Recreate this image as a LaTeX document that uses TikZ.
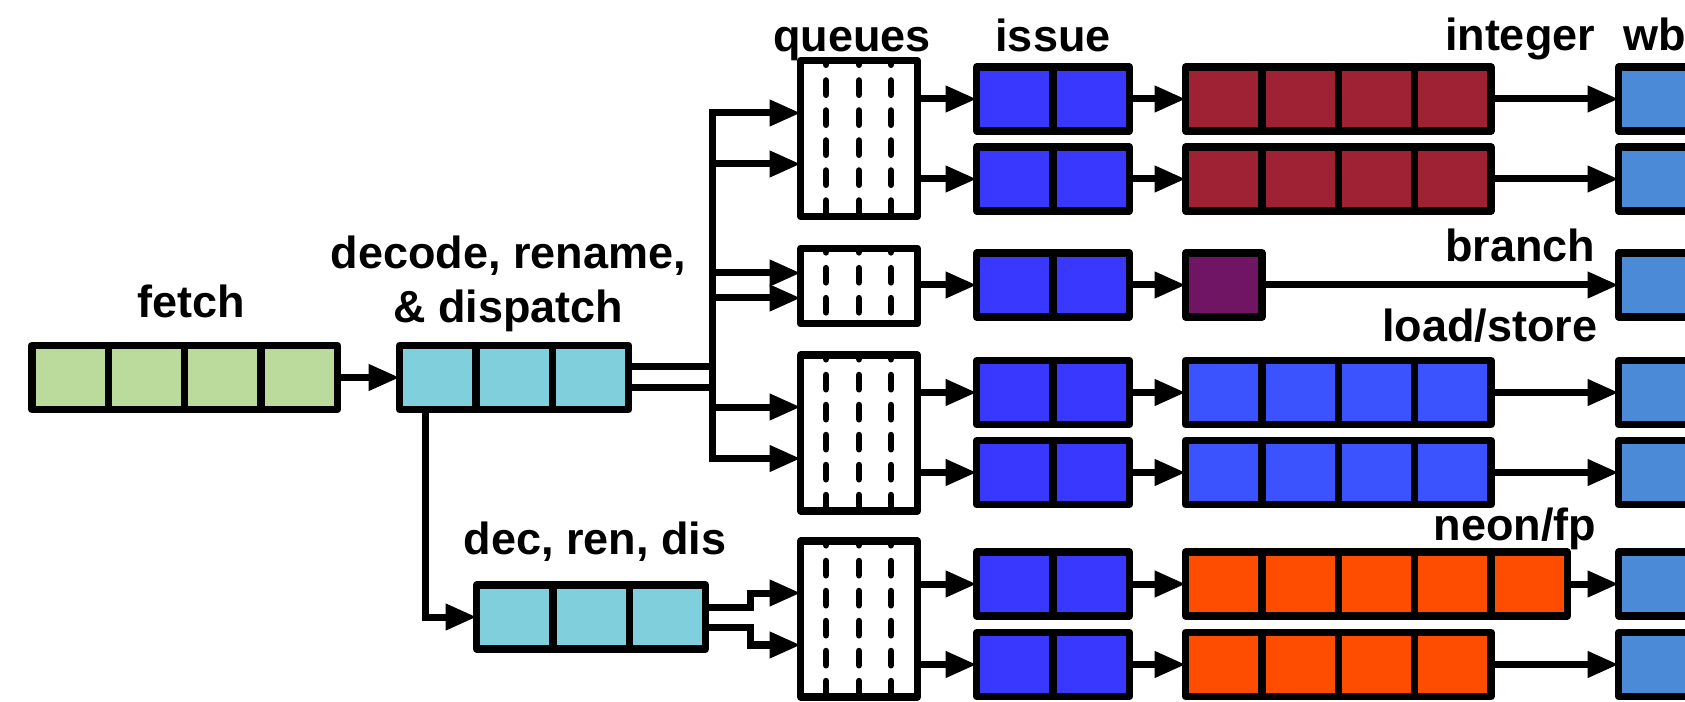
\documentclass[tikz,border=0pt]{standalone}
\usepackage{fontspec}
\setmainfont{Liberation Sans}
\usepackage{xcolor}
\usepackage{tikz}
\usetikzlibrary{positioning, arrows.meta, calc}

\definecolor{fetchgreen}{RGB}{187,219,156}
\definecolor{decodecyan}{RGB}{127,208,220}
\definecolor{issueblue}{RGB}{56,56,255}
\definecolor{intred}{RGB}{158,34,52}
\definecolor{branchpurple}{RGB}{112,20,100}
\definecolor{lsblue}{RGB}{58,82,255}
\definecolor{neonorange}{RGB}{255,77,0}
\definecolor{wbblue}{RGB}{74,138,214}

\begin{document}
\begin{tikzpicture}[
    >={Triangle[length=0.31cm, width=0.25cm]},
    cellnode/.style={rectangle, draw=black, line width=0.073cm, line join=round, minimum width=0.7635cm, minimum height=0.64cm, inner sep=0pt, outer sep=0pt},
    queuenode/.style={rectangle, draw=black, fill=white, line width=0.073cm, line join=round, minimum width=1.167cm, minimum height=1.557cm, inner sep=0pt, outer sep=0pt},
    stagelabel/.style={inner sep=0pt, outer sep=0pt, font=\fontsize{12.8pt}{15.5pt}\selectfont\bfseries},
    wire/.style={line width=0.07cm},
    queuedash/.style={line width=0.068cm, line cap=round, dash pattern=on 0.14cm off 0.16cm, dash phase=0.10cm},
]
\useasboundingbox (0,0) rectangle (16.85,7.01);

\node[cellnode, fill=fetchgreen, anchor=west](f1) at (0.3195,3.235){};
\node[cellnode, fill=fetchgreen](f2)[right = 0cm of f1]{};
\node[cellnode, fill=fetchgreen](f3)[right = 0cm of f2]{};
\node[cellnode, fill=fetchgreen](f4)[right = 0cm of f3]{};

\node[cellnode, fill=decodecyan, anchor=west](d1) at (3.9965,3.235){};
\node[cellnode, fill=decodecyan](d2)[right = 0cm of d1]{};
\node[cellnode, fill=decodecyan](d3)[right = 0cm of d2]{};

\node[cellnode, fill=decodecyan, anchor=west](r1) at (4.7665,0.84){};
\node[cellnode, fill=decodecyan](r2)[right = 0cm of r1]{};
\node[cellnode, fill=decodecyan](r3)[right = 0cm of r2]{};

\node[queuenode](q1) at (8.59,5.625){};
\node[queuenode, minimum height=0.755cm](q2) at (8.59,4.15){};
\node[queuenode](q3) at (8.59,2.68){};
\node[queuenode](q4) at (8.59,0.82){};

\draw[queuedash] ($(q1.north)+(-0.33,0)$) -- ($(q1.south)+(-0.33,0)$);
\draw[queuedash] (q1.north) -- (q1.south);
\draw[queuedash] ($(q1.north)+(0.32,0)$) -- ($(q1.south)+(0.32,0)$);
\draw[queuedash] ($(q2.north)+(-0.33,0)$) -- ($(q2.south)+(-0.33,0)$);
\draw[queuedash] (q2.north) -- (q2.south);
\draw[queuedash] ($(q2.north)+(0.32,0)$) -- ($(q2.south)+(0.32,0)$);
\draw[queuedash] ($(q3.north)+(-0.33,0)$) -- ($(q3.south)+(-0.33,0)$);
\draw[queuedash] (q3.north) -- (q3.south);
\draw[queuedash] ($(q3.north)+(0.32,0)$) -- ($(q3.south)+(0.32,0)$);
\draw[queuedash] ($(q4.north)+(-0.33,0)$) -- ($(q4.south)+(-0.33,0)$);
\draw[queuedash] (q4.north) -- (q4.south);
\draw[queuedash] ($(q4.north)+(0.32,0)$) -- ($(q4.south)+(0.32,0)$);

\node[cellnode, fill=issueblue, anchor=west](i1a) at (9.7665,6.02){};
\node[cellnode, fill=issueblue](i1b)[right = 0cm of i1a]{};
\node[cellnode, fill=issueblue, anchor=west](i2a) at (9.7665,5.22){};
\node[cellnode, fill=issueblue](i2b)[right = 0cm of i2a]{};
\node[cellnode, fill=issueblue, anchor=west](i3a) at (9.7665,4.16){};
\node[cellnode, fill=issueblue](i3b)[right = 0cm of i3a]{};
\node[cellnode, fill=issueblue, anchor=west](i4a) at (9.7665,3.085){};
\node[cellnode, fill=issueblue](i4b)[right = 0cm of i4a]{};
\node[cellnode, fill=issueblue, anchor=west](i5a) at (9.7665,2.285){};
\node[cellnode, fill=issueblue](i5b)[right = 0cm of i5a]{};
\node[cellnode, fill=issueblue, anchor=west](i6a) at (9.7665,1.17){};
\node[cellnode, fill=issueblue](i6b)[right = 0cm of i6a]{};
\node[cellnode, fill=issueblue, anchor=west](i7a) at (9.7665,0.365){};
\node[cellnode, fill=issueblue](i7b)[right = 0cm of i7a]{};

\node[cellnode, fill=intred, anchor=west](x1a) at (11.8565,6.02){};
\node[cellnode, fill=intred](x1b)[right = 0cm of x1a]{};
\node[cellnode, fill=intred](x1c)[right = 0cm of x1b]{};
\node[cellnode, fill=intred](x1d)[right = 0cm of x1c]{};
\node[cellnode, fill=intred, anchor=west](x2a) at (11.8565,5.22){};
\node[cellnode, fill=intred](x2b)[right = 0cm of x2a]{};
\node[cellnode, fill=intred](x2c)[right = 0cm of x2b]{};
\node[cellnode, fill=intred](x2d)[right = 0cm of x2c]{};
\node[cellnode, fill=branchpurple, anchor=west](x3a) at (11.8565,4.16){};
\node[cellnode, fill=lsblue, anchor=west](x4a) at (11.8565,3.085){};
\node[cellnode, fill=lsblue](x4b)[right = 0cm of x4a]{};
\node[cellnode, fill=lsblue](x4c)[right = 0cm of x4b]{};
\node[cellnode, fill=lsblue](x4d)[right = 0cm of x4c]{};
\node[cellnode, fill=lsblue, anchor=west](x5a) at (11.8565,2.285){};
\node[cellnode, fill=lsblue](x5b)[right = 0cm of x5a]{};
\node[cellnode, fill=lsblue](x5c)[right = 0cm of x5b]{};
\node[cellnode, fill=lsblue](x5d)[right = 0cm of x5c]{};
\node[cellnode, fill=neonorange, anchor=west](x6a) at (11.8565,1.17){};
\node[cellnode, fill=neonorange](x6b)[right = 0cm of x6a]{};
\node[cellnode, fill=neonorange](x6c)[right = 0cm of x6b]{};
\node[cellnode, fill=neonorange](x6d)[right = 0cm of x6c]{};
\node[cellnode, fill=neonorange](x6e)[right = 0cm of x6d]{};
\node[cellnode, fill=neonorange, anchor=west](x7a) at (11.8565,0.365){};
\node[cellnode, fill=neonorange](x7b)[right = 0cm of x7a]{};
\node[cellnode, fill=neonorange](x7c)[right = 0cm of x7b]{};
\node[cellnode, fill=neonorange](x7d)[right = 0cm of x7c]{};

\node[cellnode, fill=wbblue, anchor=west](w1) at (16.1865,6.02){};
\node[cellnode, fill=wbblue, anchor=west](w2) at (16.1865,5.22){};
\node[cellnode, fill=wbblue, anchor=west](w3) at (16.1865,4.16){};
\node[cellnode, fill=wbblue, anchor=west](w4) at (16.1865,3.085){};
\node[cellnode, fill=wbblue, anchor=west](w5) at (16.1865,2.285){};
\node[cellnode, fill=wbblue, anchor=west](w6) at (16.1865,1.17){};
\node[cellnode, fill=wbblue, anchor=west](w7) at (16.1865,0.365){};

\node[stagelabel, xshift=0.07cm](fetchlbl)[above = 0.28cm of f2.north east]{fetch};
\node[stagelabel, align=center, xshift=-0.06cm](decodelbl)[above = 0.135cm of d2.north]{decode, rename,\\\& dispatch};
\node[stagelabel, xshift=0.04cm](declbl)[above = 0.24cm of r2.north]{dec, ren, dis};
\node[stagelabel, xshift=-0.07cm](queuelbl)[above = 0cm of q1]{queues};
\node[stagelabel](issuelbl)[above = 0.155cm of i1a.north east]{issue};
\node[stagelabel, anchor=base east](intlbl) at (15.95,6.50){integer};
\node[stagelabel, anchor=base west](wblbl) at (16.23,6.50){wb};
\node[stagelabel, anchor=base east](brlbl) at (15.95,4.395){branch};
\node[stagelabel, anchor=base east](lslbl) at (15.97,3.59){load/store};
\node[stagelabel, anchor=base east](neonlbl) at (15.96,1.60){neon/fp};

\coordinate (bustop) at (7.12,5.88);
\coordinate (busbot) at (7.12,2.425);

\draw[wire, ->] (f4.east) -- (d1.west);
\draw[wire] ($(d3.east)+(0,0.105)$) -- ($(d3.east -| bustop)+(0,0.105)$);
\draw[wire] ($(d3.east)+(0,-0.105)$) -- ($(d3.east -| bustop)+(0,-0.105)$);
\draw[wire, <->] ($(q3.west)+(0,-0.255)$) -| (bustop) -- ($(q1.west)+(0,0.255)$);
\draw[wire, ->] ($(q1.west -| bustop)+(0,-0.255)$) -- ($(q1.west)+(0,-0.255)$);
\draw[wire, ->] ($(q2.west -| bustop)+(0,0.13)$) -- ($(q2.west)+(0,0.13)$);
\draw[wire, ->] ($(q2.west -| bustop)+(0,-0.12)$) -- ($(q2.west)+(0,-0.12)$);
\draw[wire, ->] ($(q3.west -| bustop)+(0,0.26)$) -- ($(q3.west)+(0,0.26)$);
\draw[wire, ->] ($(d1.south)+(-0.12,0)$) |- (r1.west);
\draw[wire, ->] ($(r3.east)+(0,0.1)$) -- ++(0.4475,0) |- ($(q4.west)+(0,0.26)$);
\draw[wire, ->] ($(r3.east)+(0,-0.1)$) -- ++(0.4475,0) |- ($(q4.west)+(0,-0.26)$);

\draw[wire, ->] (q1.east |- i1a.west) -- (i1a.west);
\draw[wire, ->] (q1.east |- i2a.west) -- (i2a.west);
\draw[wire, ->] (q2.east |- i3a.west) -- (i3a.west);
\draw[wire, ->] (q3.east |- i4a.west) -- (i4a.west);
\draw[wire, ->] (q3.east |- i5a.west) -- (i5a.west);
\draw[wire, ->] (q4.east |- i6a.west) -- (i6a.west);
\draw[wire, ->] (q4.east |- i7a.west) -- (i7a.west);

\draw[wire, ->] (i1b.east) -- (x1a.west);
\draw[wire, ->] (i2b.east) -- (x2a.west);
\draw[wire, ->] (i3b.east) -- (x3a.west);
\draw[wire, ->] (i4b.east) -- (x4a.west);
\draw[wire, ->] (i5b.east) -- (x5a.west);
\draw[wire, ->] (i6b.east) -- (x6a.west);
\draw[wire, ->] (i7b.east) -- (x7a.west);

\draw[wire, ->] (x1d.east) -- (w1.west);
\draw[wire, ->] (x2d.east) -- (w2.west);
\draw[wire, ->] (x3a.east) -- (w3.west);
\draw[wire, ->] (x4d.east) -- (w4.west);
\draw[wire, ->] (x5d.east) -- (w5.west);
\draw[wire, ->] (x6e.east) -- (w6.west);
\draw[wire, ->] (x7d.east) -- (w7.west);
\end{tikzpicture}
\end{document}
